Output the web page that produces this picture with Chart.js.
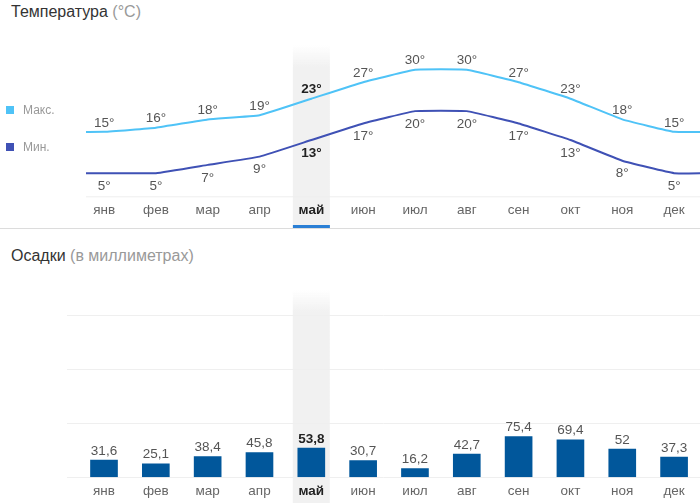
<!DOCTYPE html>
<html>
<head>
<meta charset="utf-8">
<script src="https://cdn.jsdelivr.net/npm/chart.js@4"></script>
<style>
  html, body { margin: 0; padding: 0; background: #fff; }
  body { width: 700px; height: 503px; position: relative; overflow: hidden; font-family: "Liberation Sans", Arial, sans-serif; }
  canvas { position: absolute; left: 0; }
  .title { position: absolute; left: 11px; font-size: 16px; line-height: 18px; color: #333; white-space: nowrap; }
  .title span { color: #999; }
  .legend { position: absolute; left: 23px; font-size: 12px; line-height: 14px; color: #999; }
  .legend i { position: absolute; left: -17px; top: 3px; width: 8px; height: 8px; }
  .divider { position: absolute; left: 0; top: 228px; width: 700px; height: 1px; background: #dcdcdc; }
</style>
</head>
<body>
<canvas id="tempChart" width="700" height="189" style="top:40px"></canvas>
<canvas id="rainChart" width="700" height="213" style="top:290px"></canvas>
<div class="title" style="top:3px">Температура <span>(°C)</span></div>
<div class="title" style="top:247px">Осадки <span>(в миллиметрах)</span></div>
<div class="legend" style="top:103px"><i style="background:#4fc3f7"></i>Макс.</div>
<div class="legend" style="top:140px"><i style="background:#3f51b5"></i>Мин.</div>
<div class="divider"></div>
<script>
const months = ['янв', 'фев', 'мар', 'апр', 'май', 'июн', 'июл', 'авг', 'сен', 'окт', 'ноя', 'дек'];
const maxTemps = [15, 16, 18, 19, 23, 27, 30, 30, 27, 23, 18, 15];
const minTemps = [5, 5, 7, 9, 13, 17, 20, 20, 17, 13, 8, 5];
const rain = [31.6, 25.1, 38.4, 45.8, 53.8, 30.7, 16.2, 42.7, 75.4, 69.4, 52, 37.3];
const currentMonth = 4;

const fontFamily = '"Liberation Sans", Arial, sans-serif';

// the lines run flat past january and december to the edge of the plot
function linePoints(values) {
  const pts = values.map((y, i) => ({ x: i, y: y }));
  pts.unshift({ x: -1, y: values[0] });
  pts.push({ x: values.length, y: values[values.length - 1] });
  return pts;
}

function isCurrent(c) {
  return !!c.tick && c.tick.value === currentMonth;
}

function xAxis(min, height) {
  return {
    type: 'linear',
    offset: false,
    min: min,
    max: 11.5,
    afterBuildTicks: a => { a.ticks = months.map((m, i) => ({ value: i })); },
    afterFit: s => { s.height = height; },
    grid: { display: false, drawTicks: false },
    border: { display: false },
    ticks: {
      autoSkip: false,
      maxRotation: 0,
      padding: 6,
      color: c => isCurrent(c) ? '#222' : '#666',
      font: c => ({ family: fontFamily, size: 13.5, weight: isCurrent(c) ? 'bold' : 'normal' }),
      callback: v => months[v]
    }
  };
}

// grey column behind the current month, fades out at the top
const band = {
  id: 'band',
  beforeDraw(chart, args, opts) {
    const ctx = chart.ctx;
    const x = chart.scales.x.getPixelForValue(currentMonth);
    const g = ctx.createLinearGradient(0, opts.top, 0, opts.top + 22);
    g.addColorStop(0, 'rgba(241,241,241,0)');
    g.addColorStop(1, 'rgba(241,241,241,1)');
    ctx.save();
    ctx.fillStyle = g;
    ctx.fillRect(x - 18.5, opts.top, 37, chart.height - opts.top);
    if (opts.underline) {
      ctx.fillStyle = '#2a7fd5';
      ctx.fillRect(x - 18.5, chart.height - 4, 37, 3);
    }
    ctx.restore();
  }
};

// light line under the plot area, only the temperature chart has it
const baseLine = {
  id: 'baseLine',
  beforeDatasetsDraw(chart) {
    const a = chart.chartArea;
    chart.ctx.save();
    chart.ctx.fillStyle = '#eeeeee';
    chart.ctx.fillRect(a.left, a.bottom, a.right - a.left, 1);
    chart.ctx.restore();
  }
};

// value text over or under each mark
const valueLabels = {
  id: 'valueLabels',
  afterDatasetsDraw(chart) {
    const ctx = chart.ctx;
    ctx.save();
    ctx.textAlign = 'center';
    ctx.textBaseline = 'middle';
    chart.data.datasets.forEach((ds, d) => {
      const meta = chart.getDatasetMeta(d);
      ds.data.forEach((item, i) => {
        if (item.x < 0 || item.x >= months.length) return;
        const on = item.x === currentMonth;
        ctx.font = (on ? 'bold ' : '') + '13.5px ' + fontFamily;
        ctx.fillStyle = on ? '#222' : '#555';
        ctx.fillText(ds.labelText(item.y), meta.data[i].x, meta.data[i].y + ds.labelOffset);
      });
    });
    ctx.restore();
  }
};

const common = {
  responsive: false,
  animation: false,
  events: [],
  plugins: { legend: { display: false }, tooltip: { enabled: false } }
};

new Chart(document.getElementById('tempChart'), {
  type: 'line',
  data: {
    datasets: [
      { data: linePoints(maxTemps), borderColor: '#4fc3f7', borderWidth: 2, pointRadius: 0, tension: 0.1,
        labelOffset: -9, labelText: v => v + '°' },
      { data: linePoints(minTemps), borderColor: '#3f51b5', borderWidth: 2, pointRadius: 0, tension: 0.1,
        labelOffset: 13, labelText: v => v + '°' }
    ]
  },
  options: {
    ...common,
    layout: { padding: { left: 86 } },
    plugins: { ...common.plugins, band: { top: 5, underline: true } },
    scales: {
      x: xAxis(-0.35, 32.7),
      y: { display: false, min: -0.6, max: 37.2 }
    }
  },
  plugins: [band, baseLine, valueLabels]
});

new Chart(document.getElementById('rainChart'), {
  type: 'bar',
  data: {
    datasets: [
      { data: rain.map((y, i) => ({ x: i, y: y })), backgroundColor: '#01579b', barThickness: 27,
        labelOffset: -9, labelText: v => String(v).replace('.', ',') }
    ]
  },
  options: {
    ...common,
    layout: { padding: { top: 25, left: 67 } },
    plugins: { ...common.plugins, band: { top: 0, underline: false } },
    scales: {
      x: xAxis(-0.714, 25.7),
      y: {
        min: 0,
        max: 300,
        grid: { color: '#efefef', drawTicks: false },
        border: { display: false },
        ticks: { stepSize: 100, display: false }
      }
    }
  },
  plugins: [band, valueLabels]
});
</script>
</body>
</html>
